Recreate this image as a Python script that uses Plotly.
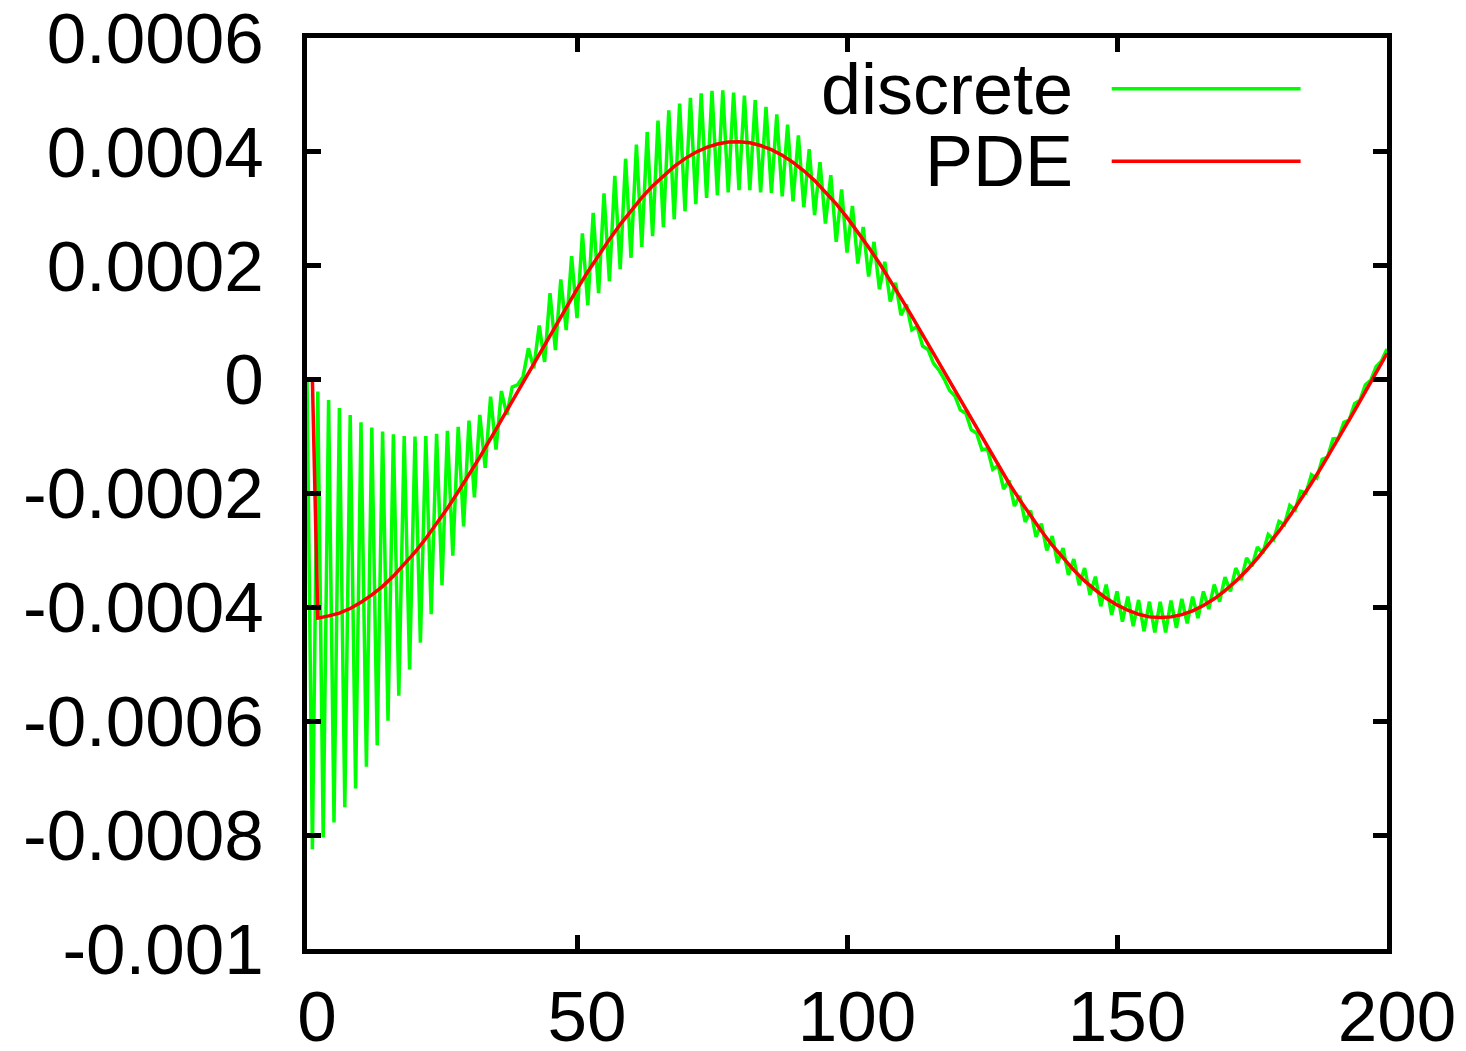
import plotly.graph_objects as go

# ---------------- data ----------------
discrete_x = list(range(0, 201))
discrete_y = [
    0.0, -8.25e-4, -0.21e-4, -8.04e-4, -0.36e-4, -7.78e-4, -0.50e-4, -7.51e-4, -0.62e-4, -7.18e-4,
    -0.75e-4, -6.80e-4, -0.84e-4, -6.42e-4, -0.91e-4, -5.99e-4, -0.96e-4, -5.55e-4, -0.99e-4, -5.09e-4,
    -1.00e-4, -4.62e-4, -0.99e-4, -4.12e-4, -0.95e-4, -3.61e-4, -0.90e-4, -3.09e-4, -0.83e-4, -2.58e-4,
    -0.72e-4, -2.07e-4, -0.62e-4, -1.55e-4, -0.30e-4, -1.23e-4, -0.20e-4, -0.62e-4, -0.13e-4, -0.09e-4,
    0.05e-4, 0.55e-4, 0.20e-4, 0.95e-4, 0.31e-4, 1.52e-4, 0.52e-4, 1.76e-4, 0.87e-4, 2.17e-4,
    1.08e-4, 2.57e-4, 1.31e-4, 2.93e-4, 1.52e-4, 3.27e-4, 1.73e-4, 3.58e-4, 1.94e-4, 3.88e-4,
    2.14e-4, 4.13e-4, 2.33e-4, 4.35e-4, 2.52e-4, 4.55e-4, 2.68e-4, 4.73e-4, 2.82e-4, 4.85e-4,
    2.96e-4, 4.95e-4, 3.08e-4, 5.03e-4, 3.19e-4, 5.07e-4, 3.24e-4, 5.08e-4, 3.29e-4, 5.04e-4,
    3.33e-4, 4.99e-4, 3.33e-4, 4.91e-4, 3.29e-4, 4.79e-4, 3.28e-4, 4.66e-4, 3.22e-4, 4.48e-4,
    3.13e-4, 4.29e-4, 3.03e-4, 4.05e-4, 2.89e-4, 3.82e-4, 2.74e-4, 3.59e-4, 2.42e-4, 3.34e-4,
    2.23e-4, 3.05e-4, 2.04e-4, 2.68e-4, 1.81e-4, 2.42e-4, 1.59e-4, 2.07e-4, 1.37e-4, 1.70e-4,
    1.13e-4, 1.32e-4, 0.875e-4, 0.93e-4, 0.59e-4, 0.53e-4, 0.29e-4, 0.17e-4, 0.01e-4, -0.19e-4,
    -0.29e-4, -0.535e-4, -0.59e-4, -0.88e-4, -0.94e-4, -1.235e-4, -1.21e-4, -1.575e-4, -1.51e-4, -1.92e-4,
    -1.77e-4, -2.22e-4, -2.04e-4, -2.50e-4, -2.30e-4, -2.76e-4, -2.53e-4, -3.00e-4, -2.75e-4, -3.22e-4,
    -2.96e-4, -3.43e-4, -3.15e-4, -3.61e-4, -3.31e-4, -3.78e-4, -3.46e-4, -3.98e-4, -3.60e-4, -4.13e-4,
    -3.72e-4, -4.25e-4, -3.81e-4, -4.33e-4, -3.87e-4, -4.42e-4, -3.90e-4, -4.44e-4, -3.90e-4, -4.44e-4,
    -3.88e-4, -4.36e-4, -3.85e-4, -4.28e-4, -3.81e-4, -4.19e-4, -3.72e-4, -4.03e-4, -3.60e-4, -3.90e-4,
    -3.47e-4, -3.72e-4, -3.31e-4, -3.52e-4, -3.13e-4, -3.28e-4, -2.94e-4, -3.05e-4, -2.72e-4, -2.81e-4,
    -2.49e-4, -2.55e-4, -2.21e-4, -2.29e-4, -1.96e-4, -1.99e-4, -1.67e-4, -1.73e-4, -1.40e-4, -1.36e-4,
    -1.04e-4, -1.03e-4, -0.75e-4, -0.71e-4, -0.42e-4, -0.36e-4, -0.09e-4, -0.01e-4, 0.23e-4, 0.33e-4,
    0.54e-4,
]

pde_x = [1] + list(range(2, 201, 2))
pde_y = [
    0.0, -4.19e-4, -4.15e-4, -4.10e-4, -4.02e-4, -3.91e-4, -3.78e-4, -3.63e-4, -3.45e-4, -3.25e-4,
    -3.03e-4, -2.79e-4, -2.53e-4, -2.26e-4, -1.97e-4, -1.67e-4, -1.36e-4, -1.035e-4, -0.708e-4, -0.376e-4,
    -0.042e-4, 0.293e-4, 0.625e-4, 0.953e-4, 1.276e-4, 1.590e-4, 1.894e-4, 2.186e-4, 2.463e-4, 2.726e-4,
    2.970e-4, 3.196e-4, 3.402e-4, 3.584e-4, 3.745e-4, 3.882e-4, 3.993e-4, 4.079e-4, 4.139e-4, 4.172e-4,
    4.179e-4, 4.159e-4, 4.112e-4, 4.040e-4, 3.941e-4, 3.816e-4, 3.668e-4, 3.496e-4, 3.301e-4, 3.086e-4,
    2.850e-4, 2.599e-4, 2.326e-4, 2.043e-4, 1.744e-4, 1.432e-4, 1.115e-4, 0.789e-4, 0.459e-4, 0.126e-4,
    -0.209e-4, -0.542e-4, -0.872e-4, -1.196e-4, -1.513e-4, -1.820e-4, -2.113e-4, -2.395e-4, -2.659e-4, -2.908e-4,
    -3.137e-4, -3.346e-4, -3.535e-4, -3.698e-4, -3.839e-4, -3.957e-4, -4.050e-4, -4.122e-4, -4.167e-4, -4.180e-4,
    -4.167e-4, -4.127e-4, -4.060e-4, -3.968e-4, -3.850e-4, -3.707e-4, -3.541e-4, -3.352e-4, -3.141e-4, -2.911e-4,
    -2.662e-4, -2.396e-4, -2.115e-4, -1.820e-4, -1.514e-4, -1.197e-4, -0.872e-4, -0.543e-4, -0.209e-4, 0.125e-4,
    0.459e-4,
]

x_tickvals = [0, 50, 100, 150, 200]
x_ticktext = ["0", "50", "100", "150", "200"]
y_tickvals = [0.0006, 0.0004, 0.0002, 0.0, -0.0002, -0.0004, -0.0006, -0.0008, -0.001]
y_ticktext = ["0.0006", "0.0004", "0.0002", "0", "-0.0002", "-0.0004", "-0.0006", "-0.0008", "-0.001"]

series_names = ["discrete", "PDE"]
series_colors = ["#00ff00", "#ff0000"]

# ---------------- figure ----------------
FONT = "Liberation Sans, Arial, Helvetica, sans-serif"

fig = go.Figure()
fig.add_trace(go.Scatter(x=discrete_x, y=discrete_y, mode="lines", name=series_names[0],
                         line=dict(color=series_colors[0], width=3.5)))
fig.add_trace(go.Scatter(x=pde_x, y=pde_y, mode="lines", name=series_names[1],
                         line=dict(color=series_colors[1], width=3.5)))

axis_common = dict(
    showline=True, linewidth=5, linecolor="black", mirror="ticks",
    ticks="inside", ticklen=14, tickwidth=5, tickcolor="black",
    showgrid=False, zeroline=False, automargin=False, ticklabeloverflow="allow",
    tickfont=dict(family=FONT, size=71, color="black"),
)

fig.update_xaxes(range=[0, 200], tickvals=x_tickvals, ticktext=x_ticktext,
                 ticklabelstandoff=2, ticklabelshift=10, **axis_common)
fig.update_yaxes(range=[-0.00100002, 0.00060002], tickvals=y_tickvals, ticktext=y_ticktext,
                 ticklabelstandoff=24, **axis_common)

# legend drawn gnuplot-style: text right-aligned, sample line to the right
legend_rows_y = [0.9442, 0.8647]
for name, color, yy in zip(series_names, series_colors, legend_rows_y):
    fig.add_annotation(xref="paper", yref="paper", x=0.711, y=yy, text=name,
                       showarrow=False, xanchor="right", yanchor="middle", height=68,
                       font=dict(family=FONT, size=72, color="black"))
    fig.add_shape(type="line", xref="paper", yref="paper", x0=0.7451, x1=0.920,
                  y0=yy, y1=yy, line=dict(color=color, width=3.5))

fig.update_layout(
    width=1466, height=1051,
    margin=dict(l=307, r=79, t=38, b=102),
    plot_bgcolor="white", paper_bgcolor="white",
    showlegend=False,
    font=dict(family=FONT, size=71, color="black"),
)

fig.write_html("out.html")
